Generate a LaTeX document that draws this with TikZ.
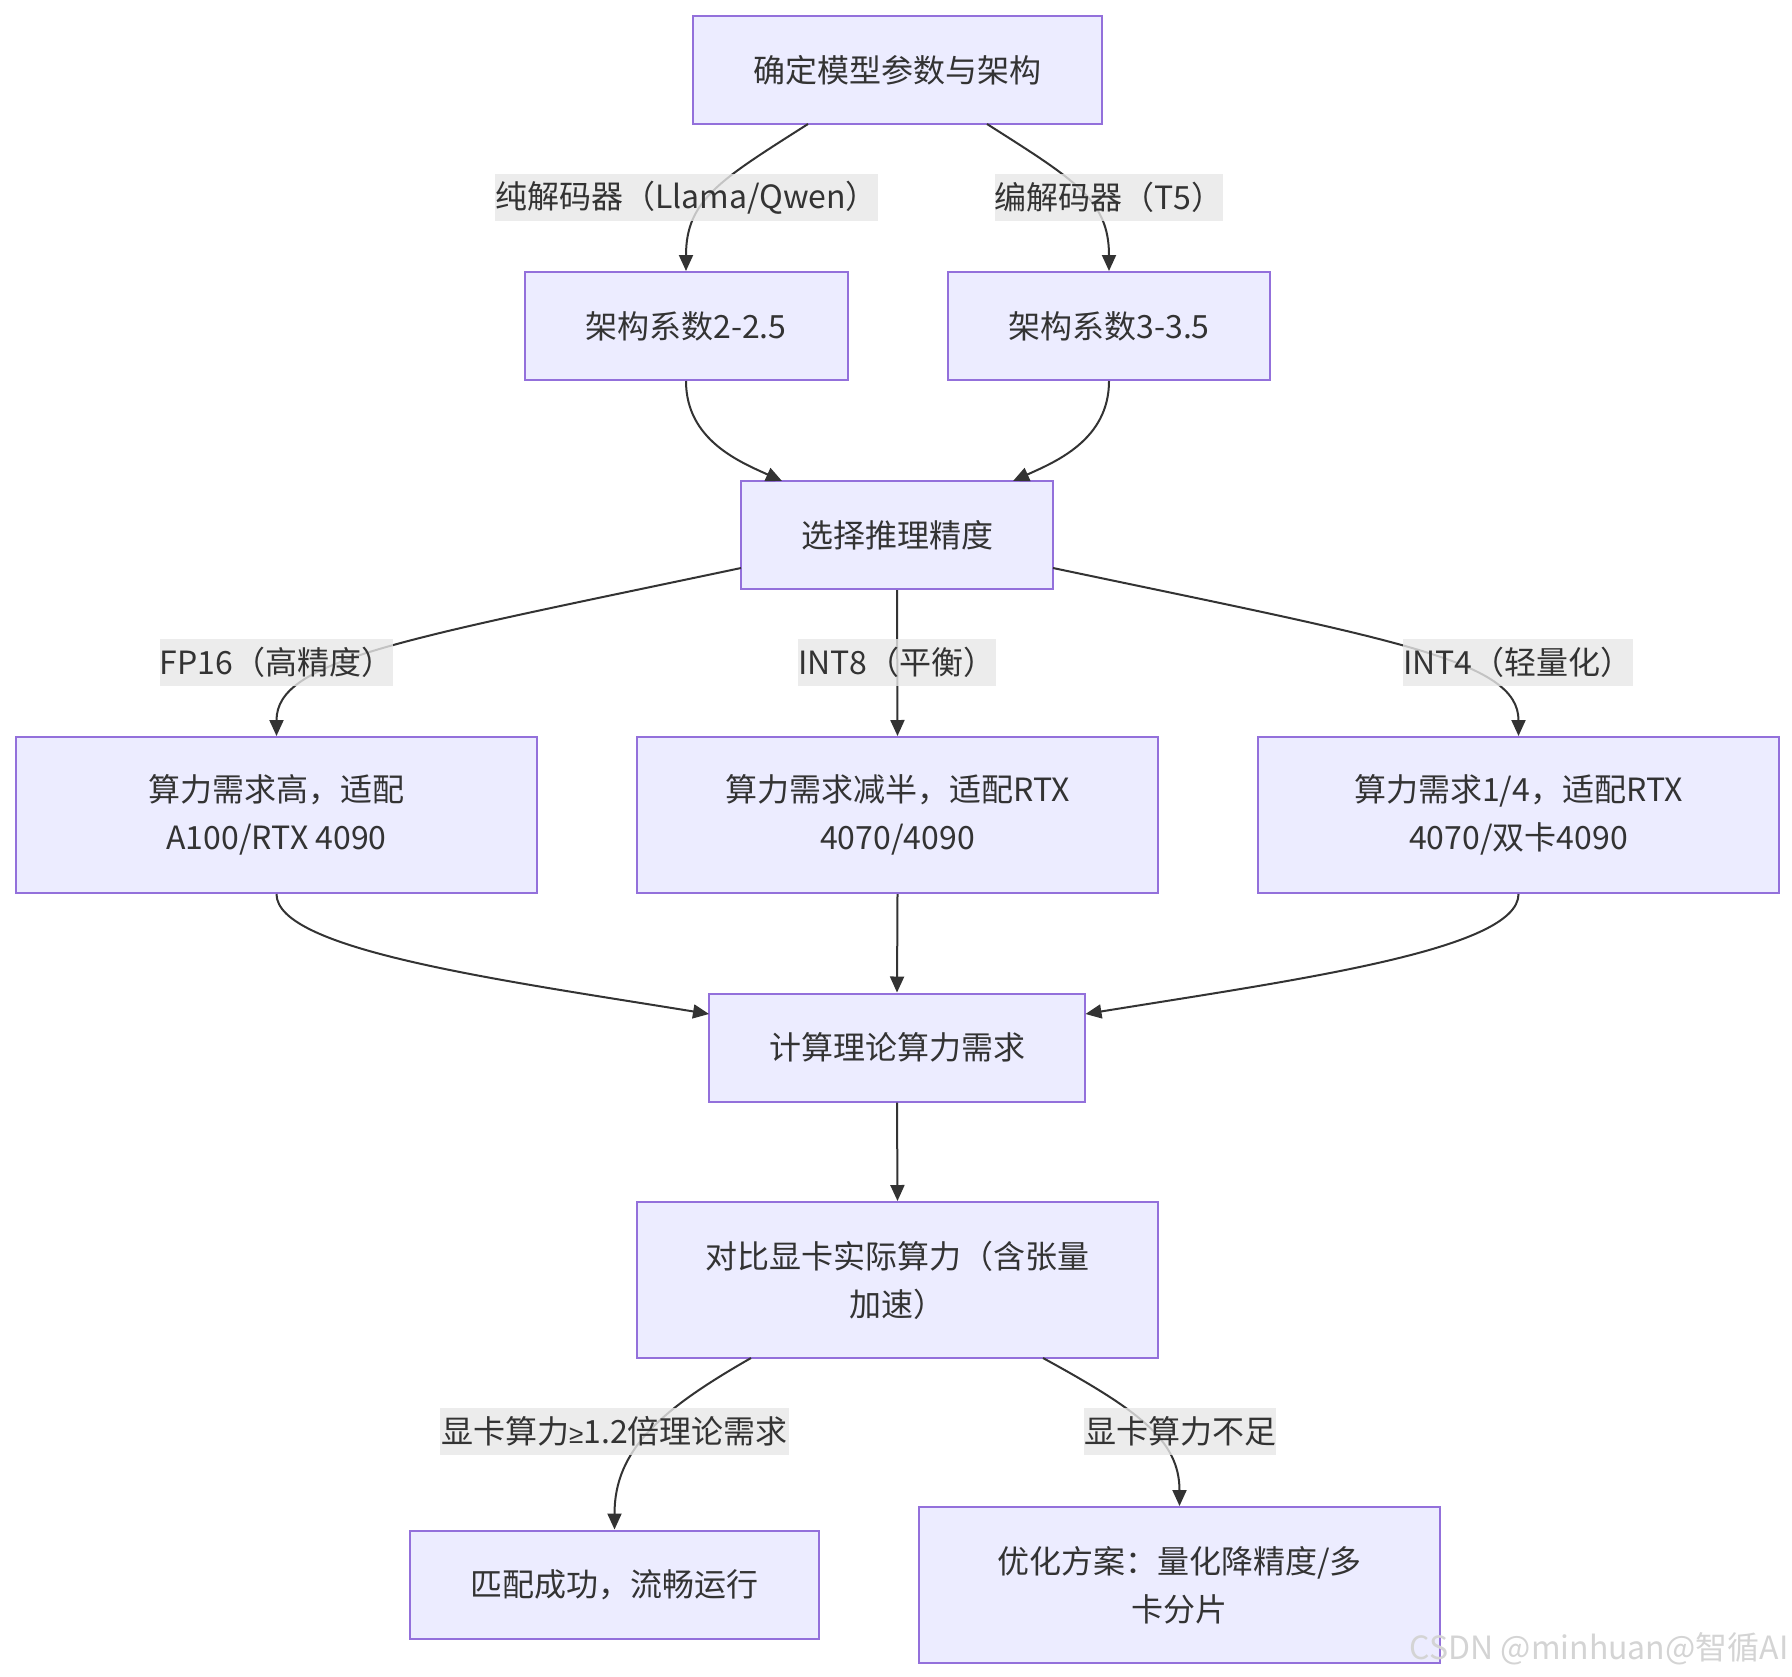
\documentclass[tikz,border=0pt]{standalone}
\usepackage{fontspec}
\setmainfont{Noto Sans CJK SC}
\newfontfamily\symfont{Liberation Sans}
\usetikzlibrary{arrows.meta}
\definecolor{boxfill}{HTML}{ECECFF}
\definecolor{boxline}{HTML}{9370DB}
\definecolor{edgecol}{HTML}{333333}
\definecolor{lblbg}{HTML}{E8E8E8}
\definecolor{txtcol}{HTML}{333333}
\definecolor{wmcol}{HTML}{D4D4D4}
\tikzset{
  box/.style={draw=boxline, fill=boxfill, line width=1pt, text=txtcol, align=center,
    font=\fontsize{16}{24}\selectfont, inner sep=0pt},
  lbl/.style={fill=lblbg, fill opacity=0.8, text opacity=1, text=txtcol, inner xsep=0pt, inner ysep=0pt,
    minimum height=23.5pt, font=\fontsize{16}{24}\selectfont},
  conn/.style={draw=edgecol, line width=1pt, -{Triangle[length=8pt,width=7pt]}}
}
\begin{document}
\begin{tikzpicture}[x=0.5pt,y=-0.5pt]
\useasboundingbox[fill=white] (0,0) rectangle (1792,1676);
% nodes
\node[box, minimum width=204.5pt, minimum height=54pt] (top) at (897.5,70) {确定模型参数与架构};
\node[box, minimum width=161.5pt, minimum height=54pt] (a1) at (686,326) {架构系数2-2.5};
\node[box, minimum width=161pt, minimum height=54pt] (a2) at (1109,326) {架构系数3-3.5};
\node[box, minimum width=156pt, minimum height=54pt] (sel) at (897,535) {选择推理精度};
\node[box, minimum width=260.5pt, minimum height=78pt] (p1) at (276.5,815) {算力需求高，适配\\A100/RTX 4090};
\node[box, minimum width=260.5pt, minimum height=78pt] (p2) at (897.5,815) {算力需求减半，适配RTX\\4070/4090};
\node[box, minimum width=260.5pt, minimum height=78pt] (p3) at (1518.5,815) {算力需求1/4，适配RTX\\4070/双卡4090};
\node[box, minimum width=188pt, minimum height=54pt] (calc) at (897,1047.5) {计算理论算力需求};
\node[box, minimum width=260.5pt, minimum height=78pt] (cmp) at (897.5,1280) {对比显卡实际算力（含张量\\加速）};
\node[box, minimum width=204.5pt, minimum height=54pt] (ok) at (614.5,1584.5) {匹配成功，流畅运行};
\node[box, minimum width=260.5pt, minimum height=78pt] (opt) at (1179.5,1585) {优化方案：量化降精度/多\\卡分片};
% connector end points
\coordinate (e1s) at (808,124);
\coordinate (e2s) at (987,124);
\coordinate (e3e) at (782,481);
\coordinate (e4e) at (1013,481);
\coordinate (e5s) at (741,568);
\coordinate (e7s) at (1053,568);
\coordinate (e8e) at (709,1014);
\coordinate (e10e) at (1085.5,1014);
\coordinate (e12s) at (751,1358);
\coordinate (e13s) at (1043,1358);
% connectors
\draw[conn] (e1s) .. controls (720,180) and (686,200) .. (a1.north);
\draw[conn] (e2s) .. controls (1075,180) and (1109,200) .. (a2.north);
\draw[conn] (a1.south) .. controls (686,440) and (740,462) .. (e3e);
\draw[conn] (a2.south) .. controls (1109,440) and (1055,462) .. (e4e);
\draw[conn] (e5s) .. controls (400,640) and (276.5,660) .. (p1.north);
\draw[conn] (sel.south) -- (p2.north);
\draw[conn] (e7s) .. controls (1395,640) and (1518.5,660) .. (p3.north);
\draw[conn] (p1.south) .. controls (276.5,950) and (500,980) .. (e8e);
\draw[conn] (p2.south) -- (calc.north);
\draw[conn] (p3.south) .. controls (1518.5,950) and (1295,980) .. (e10e);
\draw[conn] (calc.south) -- (cmp.north);
\draw[conn] (e12s) .. controls (660,1410) and (614.5,1450) .. (ok.north);
\draw[conn] (e13s) .. controls (1138,1410) and (1179.5,1440) .. (opt.north);
% labels
\node[lbl, minimum width=188.5pt] (l1) at (686.5,197.5) {纯解码器（Llama/Qwen）};
\node[lbl, minimum width=114pt] (l2) at (1109,197.5) {编解码器（T5）};
\node[lbl, minimum width=113.5pt] (l3) at (276.5,662.5) {FP16（高精度）};
\node[lbl, minimum width=96pt] (l4) at (897,662.5) {INT8（平衡）};
\node[lbl, minimum width=111pt] (l5) at (1518,662.5) {INT4（轻量化）};
\node[lbl, minimum width=174.5pt] (l6) at (614.5,1431) {显卡算力{\symfont\fontsize{13}{24}\selectfont ≥}1.2倍理论需求};
\node[lbl, minimum width=96pt] (l7) at (1180,1431) {显卡算力不足};
% watermark
\node[anchor=east, text=wmcol, font=\fontsize{16}{20}\selectfont, inner sep=0pt] (wm) at (1789,1649) {CSDN @minhuan@智循AI};
\end{tikzpicture}
\end{document}
